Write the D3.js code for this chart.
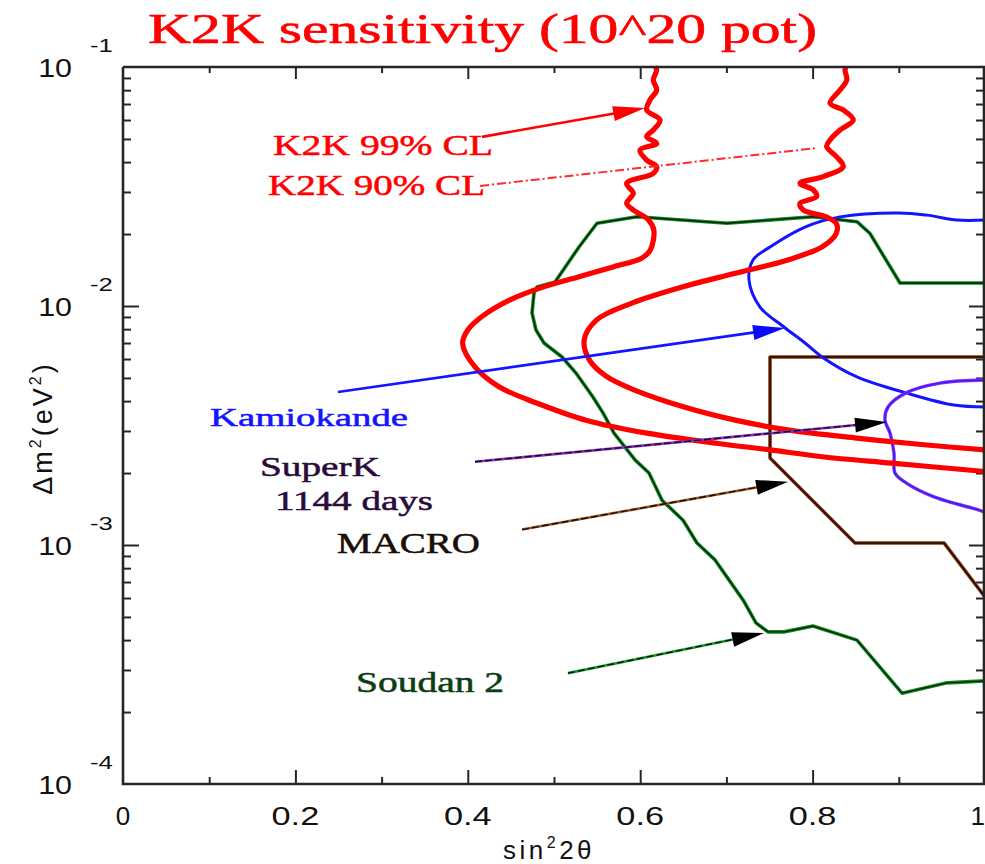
<!DOCTYPE html>
<html>
<head>
<meta charset="utf-8">
<script src="https://cdn.jsdelivr.net/npm/d3@7"></script>
<style>
  body { margin: 0; background: #fff; }
  svg { display: block; }
</style>
</head>
<body>
<svg id="chart" width="985" height="864"></svg>
<script>
// ---- axis ticks ----
const xMajorTicks = [0, 0.2, 0.4, 0.6, 0.8, 1];
const xTickLabels = ["0", "0.2", "0.4", "0.6", "0.8", "1"];
const xMinorTicks = [0.1, 0.3, 0.5, 0.7, 0.9];
const yDecades = [1e-1, 1e-2, 1e-3, 1e-4];
const yExponentLabels = ["-1", "-2", "-3", "-4"];

// ---- contours: [sin^2 2θ, Δm^2 (eV^2)] ----
const k2k99 = [
  [0.617, 0.1], [0.6191, 0.0972], [0.6152, 0.0882], [0.6191, 0.0801], [0.6114, 0.0728],
  [0.6075, 0.0661], [0.6230, 0.0600], [0.6152, 0.0545], [0.6075, 0.0511], [0.6191, 0.0479],
  [0.5998, 0.0449], [0.6075, 0.0408], [0.6191, 0.0383], [0.6152, 0.0359], [0.5843, 0.0326],
  [0.5920, 0.0296], [0.5843, 0.0269], [0.5920, 0.0252], [0.6096, 0.0229], [0.6158, 0.0208],
  [0.6117, 0.01715], [0.6016, 0.01584], [0.5694, 0.01461], [0.5290, 0.01326], [0.4888, 0.01205],
  [0.4484, 0.01059], [0.4161, 0.00902], [0.4000, 0.00794], [0.3940, 0.00698], [0.4081, 0.00557],
  [0.4362, 0.00459], [0.4806, 0.00392], [0.5371, 0.00333], [0.6096, 0.00293], [0.6903, 0.00266],
  [0.7506, 0.00250], [0.8113, 0.00234], [0.8920, 0.00220], [1.0, 0.00203]
];
const k2k90 = [
  [0.8387, 0.1], [0.8376, 0.0972], [0.8396, 0.0882], [0.8318, 0.0801], [0.8202, 0.0705],
  [0.8356, 0.0661], [0.8472, 0.0600], [0.8318, 0.0545], [0.8202, 0.0495], [0.8163, 0.0464],
  [0.8279, 0.0421], [0.8356, 0.0383], [0.8124, 0.0348], [0.7854, 0.0326], [0.8008, 0.0306],
  [0.8047, 0.0287], [0.7854, 0.0269], [0.7892, 0.0252], [0.8153, 0.02363], [0.8274, 0.0222],
  [0.8274, 0.0201], [0.8113, 0.01770], [0.7710, 0.01558], [0.7104, 0.01370], [0.6500, 0.01205],
  [0.5896, 0.01026], [0.5492, 0.00873], [0.5350, 0.00721], [0.5412, 0.00594], [0.5613, 0.00506],
  [0.5935, 0.00445], [0.6500, 0.00379], [0.7104, 0.00333], [0.7710, 0.00303], [0.8516, 0.00280],
  [0.9323, 0.00262], [1.0, 0.00250]
];
const soudan2 = [
  [1.0, 0.01248], [0.9014, 0.01248], [0.8666, 0.0201], [0.8515, 0.02253], [0.8005, 0.02363],
  [0.7007, 0.0222], [0.5963, 0.02363], [0.5499, 0.0222], [0.5290, 0.01766], [0.5012, 0.01260],
  [0.4803, 0.01201], [0.4768, 0.01133], [0.4745, 0.00935], [0.4791, 0.00794], [0.4884, 0.00700],
  [0.5093, 0.00612], [0.5255, 0.00524], [0.5452, 0.00416], [0.5568, 0.00357], [0.5696, 0.00294],
  [0.5940, 0.00227], [0.6102, 0.00200], [0.6253, 0.00154], [0.6497, 0.00127], [0.6659, 0.00102],
  [0.6868, 0.000866], [0.7007, 0.000734], [0.7193, 0.000589], [0.7343, 0.000472], [0.7483, 0.000433],
  [0.7668, 0.000433], [0.8005, 0.000458], [0.8515, 0.000400], [0.9037, 0.000240], [0.9559, 0.000265],
  [1.0, 0.000270]
];
const kamiokande = [
  [1.0, 0.0229], [0.9675, 0.0229], [0.9327, 0.0240], [0.9002, 0.0245], [0.8318, 0.0236],
  [0.7912, 0.0214], [0.7506, 0.01766], [0.7309, 0.01558], [0.7262, 0.01285], [0.7390, 0.00990],
  [0.7668, 0.00817], [0.7912, 0.00700], [0.8109, 0.00612], [0.8515, 0.00505], [0.9084, 0.00433],
  [0.9640, 0.00385], [1.0, 0.00378]
];
const superK = [
  [1.0, 0.00490], [0.9478, 0.00476], [0.9084, 0.00433], [0.8875, 0.00378], [0.8840, 0.00333],
  [0.8898, 0.00294], [0.8944, 0.00243], [0.8956, 0.00200], [0.9084, 0.00182], [0.9408, 0.00159],
  [0.9930, 0.00140], [1.0, 0.00137]
];
const macro = [
  [1.0, 0.00612], [0.7506, 0.00612], [0.7506, 0.00231], [0.8492, 0.00102], [0.9524, 0.00102],
  [1.0, 0.000606]
];

// ---- annotation arrows: label end -> contour ----
const arrowNames = ["K2K 99% CL", "K2K 90% CL", "Kamiokande", "SuperK", "MACRO", "Soudan 2"];
const arrowFrom = [[0.4165, 0.0510], [0.4142, 0.0318], [0.2494, 0.00437], [0.4084, 0.00223], [0.4629, 0.00116], [0.5162, 0.000291]];
const arrowTo   = [[0.6056, 0.0674], [0.8051, 0.0458], [0.7680, 0.00809], [0.8863, 0.00327], [0.7715, 0.00184], [0.7436, 0.000428]];

const titleText = "K2K sensitivity (10^20 pot)";

// ---- layout ----
const M = { left: 123, top: 67, right: 985, bottom: 784 };
const x = d3.scaleLinear().domain([0, 1]).range([M.left, M.right]);
const y = d3.scaleLog().domain([1e-4, 1e-1]).range([M.bottom, M.top]);

const svg = d3.select("#chart");
const axisColor = "#262626";
const sans = "'Liberation Sans', Arial, sans-serif";
const serif = "'Liberation Serif', 'Times New Roman', serif";

svg.append("clipPath").attr("id", "plot-clip")
  .append("rect")
  .attr("x", M.left).attr("y", M.top - 2)
  .attr("width", M.right - M.left).attr("height", M.bottom - M.top + 2);

// ---- ticks ----
const yMinorTicks = [];
for (let e = -4; e <= -2; e++) for (let m = 2; m <= 9; m++) yMinorTicks.push(m * Math.pow(10, e));

function styleTicks(g) {
  g.select(".domain").remove();
  g.selectAll(".tick line").attr("stroke", axisColor).attr("stroke-width", 2);
  g.selectAll(".tick text").remove();
}
const axes = svg.append("g");
axes.append("g").attr("transform", `translate(0,${M.bottom})`)
  .call(d3.axisBottom(x).tickValues(xMajorTicks.slice(1, -1)).tickSize(-14).tickSizeOuter(0)).call(styleTicks);
axes.append("g").attr("transform", `translate(0,${M.bottom})`)
  .call(d3.axisBottom(x).tickValues(xMinorTicks).tickSize(-7).tickSizeOuter(0)).call(styleTicks);
axes.append("g").attr("transform", `translate(0,${M.top})`)
  .call(d3.axisTop(x).tickValues(xMajorTicks.slice(1, -1)).tickSize(-12).tickSizeOuter(0)).call(styleTicks);
axes.append("g").attr("transform", `translate(0,${M.top})`)
  .call(d3.axisTop(x).tickValues(xMinorTicks).tickSize(-6).tickSizeOuter(0)).call(styleTicks);
axes.append("g").attr("transform", `translate(${M.left},0)`)
  .call(d3.axisLeft(y).tickValues(yDecades.slice(1, -1)).tickSize(-16).tickSizeOuter(0)).call(styleTicks);
axes.append("g").attr("transform", `translate(${M.left},0)`)
  .call(d3.axisLeft(y).tickValues(yMinorTicks).tickSize(-8).tickSizeOuter(0)).call(styleTicks);
axes.append("g").attr("transform", `translate(${M.right - 1},0)`)
  .call(d3.axisRight(y).tickValues(yDecades.slice(1, -1)).tickSize(-15).tickSizeOuter(0)).call(styleTicks);
axes.append("g").attr("transform", `translate(${M.right - 1},0)`)
  .call(d3.axisRight(y).tickValues(yMinorTicks).tickSize(-8).tickSizeOuter(0)).call(styleTicks);

// ---- contours ----
const toPx = d => [x(d[0]), y(d[1])];
const smooth = d3.line().x(d => x(d[0])).y(d => y(d[1])).curve(d3.curveCatmullRom.alpha(0.5));
const straight = d3.line().x(d => x(d[0])).y(d => y(d[1]));

const plot = svg.append("g").attr("clip-path", "url(#plot-clip)");

// Soudan 2 (green edge with dark core)
plot.append("path").attr("d", straight(soudan2)).attr("fill", "none")
  .attr("stroke", "#118a22").attr("stroke-width", 3.6).attr("stroke-linejoin", "round");
plot.append("path").attr("d", straight(soudan2)).attr("fill", "none")
  .attr("stroke", "#06250a").attr("stroke-width", 1.4).attr("stroke-linejoin", "round");

// MACRO (brown edge with dark core)
plot.append("path").attr("d", straight(macro)).attr("fill", "none")
  .attr("stroke", "#8a3a12").attr("stroke-width", 3.6).attr("stroke-linejoin", "round");
plot.append("path").attr("d", straight(macro)).attr("fill", "none")
  .attr("stroke", "#1a0800").attr("stroke-width", 1.4).attr("stroke-linejoin", "round");

// Kamiokande
plot.append("path").attr("d", smooth(kamiokande)).attr("fill", "none")
  .attr("stroke", "#1414ff").attr("stroke-width", 3);

// Super-K 1144 days
plot.append("path").attr("d", smooth(superK)).attr("fill", "none")
  .attr("stroke", "#8a2cff").attr("stroke-width", 3.4);
plot.append("path").attr("d", smooth(superK)).attr("fill", "none")
  .attr("stroke", "#3a22e6").attr("stroke-width", 1.6);

// K2K 90% and 99% CL
plot.append("path").attr("d", smooth(k2k90)).attr("fill", "none")
  .attr("stroke", "#ff0000").attr("stroke-width", 5.2).attr("stroke-linejoin", "round");
plot.append("path").attr("d", smooth(k2k99)).attr("fill", "none")
  .attr("stroke", "#ff0000").attr("stroke-width", 5.2).attr("stroke-linejoin", "round");

// ---- arrows ----
const arrowStyle = [
  { base: "#ff0000", over: null, width: 2.6, head: "#ff0000", dash: null },
  { base: "#ff2a2a", over: null, width: 2.0, head: null, dash: "9,3,2,3" },
  { base: "#1414ff", over: null, width: 2.6, head: "#0a0aff", dash: null },
  { base: "#8a2ccc", over: "#111", width: 2.6, head: "#000", dash: null },
  { base: "#a0521e", over: "#111", width: 2.6, head: "#000", dash: null },
  { base: "#13a02a", over: "#111", width: 2.6, head: "#000", dash: null }
];
const arrowG = svg.append("g");
arrowNames.forEach((name, i) => {
  const [x0, y0] = toPx(arrowFrom[i]);
  const [x1, y1] = toPx(arrowTo[i]);
  const st = arrowStyle[i];
  const ang = Math.atan2(y1 - y0, x1 - x0);
  const headLen = 32, headHalf = 7.5;
  const endX = st.head ? x1 - Math.cos(ang) * headLen * 0.8 : x1;
  const endY = st.head ? y1 - Math.sin(ang) * headLen * 0.8 : y1;
  arrowG.append("line").attr("x1", x0).attr("y1", y0).attr("x2", endX).attr("y2", endY)
    .attr("stroke", st.base).attr("stroke-width", st.width)
    .attr("stroke-dasharray", st.dash);
  if (st.over) {
    arrowG.append("line").attr("x1", x0).attr("y1", y0).attr("x2", endX).attr("y2", endY)
      .attr("stroke", st.over).attr("stroke-width", st.width * 0.55)
      .attr("stroke-dasharray", "7,3");
  }
  if (st.head) {
    const bx = x1 - Math.cos(ang) * headLen, by = y1 - Math.sin(ang) * headLen;
    const px = -Math.sin(ang) * headHalf, py = Math.cos(ang) * headHalf;
    arrowG.append("path")
      .attr("d", `M${x1},${y1}L${bx + px},${by + py}L${bx - px},${by - py}Z`)
      .attr("fill", st.head);
  }
});

// ---- frame ----
svg.append("path")
  .attr("d", `M${M.left},${M.top}H${M.right}M${M.left},${M.top}V${M.bottom}H${M.right}M${M.right - 1},${M.top}V${M.bottom}`)
  .attr("fill", "none").attr("stroke", axisColor).attr("stroke-width", 2.6);

// ---- axis labels ----
function stretch(sel, k) {
  sel.each(function () {
    const w = this.getComputedTextLength();
    d3.select(this).attr("textLength", w * k).attr("lengthAdjust", "spacingAndGlyphs");
  });
}

const lastTick = xMajorTicks.length - 1;
const xl = svg.append("g").selectAll("text").data(xMajorTicks).join("text")
  .attr("x", d => x(d)).attr("y", 825)
  .attr("text-anchor", (d, i) => i === lastTick ? "end" : "middle")
  .attr("font-family", sans).attr("font-size", 26).attr("fill", "#111")
  .text((d, i) => xTickLabels[i]);
stretch(xl.filter((d, i) => xTickLabels[i].length > 1), 1.32);

const yl = svg.append("g");
yDecades.forEach((d, i) => {
  const t = yl.append("text").attr("x", 72).attr("y", y(d) + 10)
    .attr("text-anchor", "end")
    .attr("font-family", sans).attr("font-size", 26).attr("fill", "#111").text("10");
  stretch(t, 1.17);
  const e = yl.append("text").attr("x", 90).attr("y", y(d) - 15)
    .attr("font-family", sans).attr("font-size", 19).attr("fill", "#111").text(yExponentLabels[i]);
  stretch(e, 1.35);
});

// x title: sin²2θ
const xt = svg.append("text").attr("x", 503).attr("y", 859)
  .attr("font-family", sans).attr("font-size", 26).attr("fill", "#111")
  .attr("letter-spacing", 3.5);
xt.append("tspan").text("sin");
xt.append("tspan").attr("dy", -11).attr("font-size", 16).text("2");
xt.append("tspan").attr("dy", 11).text("2θ");

// y title: Δm²(eV²)
const yt = svg.append("text")
  .attr("transform", "translate(52,428) rotate(-90)")
  .attr("text-anchor", "middle")
  .attr("font-family", sans).attr("font-size", 27).attr("fill", "#111")
  .attr("letter-spacing", 3);
yt.append("tspan").text("Δm");
yt.append("tspan").attr("dy", -11).attr("font-size", 16).text("2");
yt.append("tspan").attr("dy", 11).text("(eV");
yt.append("tspan").attr("dy", -11).attr("font-size", 16).text("2");
yt.append("tspan").attr("dy", 11).text(")");

// ---- title ----
svg.append("text").attr("x", 148).attr("y", 43)
  .attr("font-family", serif).attr("font-size", 43).attr("fill", "#ff0000")
  .attr("stroke", "#ff0000").attr("stroke-width", 0.6)
  .attr("textLength", 669).attr("lengthAdjust", "spacingAndGlyphs")
  .text(titleText);

// ---- contour labels ----
const labelTexts = ["K2K 99% CL", "K2K 90% CL", "Kamiokande", "SuperK", "1144 days", "MACRO", "Soudan 2"];
const labelStyle = [
  { x: 273, y: 155, size: 30, len: 220, fill: "#ff0000" },
  { x: 268, y: 195, size: 30, len: 217, fill: "#ff0000" },
  { x: 210, y: 426, size: 25, len: 198, fill: "#1414ff" },
  { x: 260, y: 476, size: 28, len: 120, fill: "#2a0b3a" },
  { x: 275, y: 510, size: 27, len: 158, fill: "#2a0b3a" },
  { x: 337, y: 553, size: 29, len: 143, fill: "#1c0e06" },
  { x: 356, y: 692, size: 29, len: 148, fill: "#0d3d12" }
];
svg.append("g").selectAll("text").data(labelTexts).join("text")
  .attr("x", (d, i) => labelStyle[i].x).attr("y", (d, i) => labelStyle[i].y)
  .attr("font-family", serif).attr("font-size", (d, i) => labelStyle[i].size)
  .attr("fill", (d, i) => labelStyle[i].fill)
  .attr("stroke", (d, i) => labelStyle[i].fill).attr("stroke-width", 0.5)
  .attr("textLength", (d, i) => labelStyle[i].len).attr("lengthAdjust", "spacingAndGlyphs")
  .text(d => d);
</script>
</body>
</html>
